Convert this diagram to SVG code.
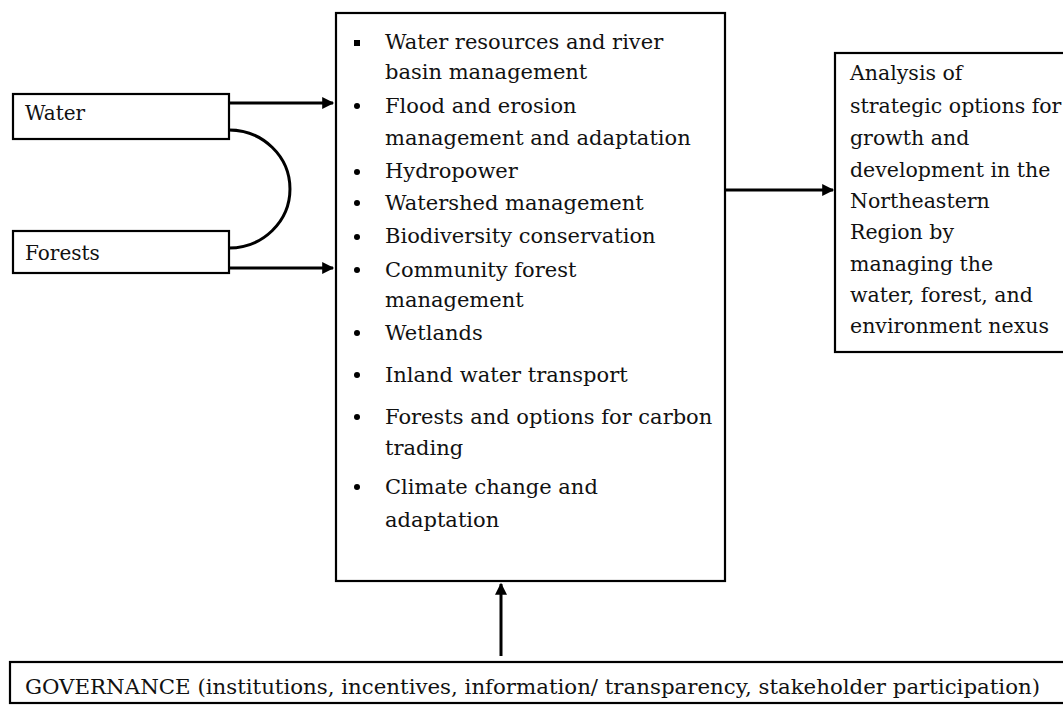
<svg xmlns="http://www.w3.org/2000/svg" width="1063" height="705" viewBox="0 0 1063 705">
<style>
.box{fill:#fff;stroke:#000;stroke-width:2.2}
.t{font-family:"DejaVu Serif","Liberation Serif",serif;fill:#111}
.m{font-size:21px}
.r{font-size:20.5px}
.g{font-size:21px}
.s{font-size:20px}
.ln{fill:none;stroke:#000;stroke-width:3}
</style>
<defs>
<marker id="ah" viewBox="0 0 10 10" refX="9" refY="5" markerWidth="5" markerHeight="4" orient="auto" markerUnits="strokeWidth">
<path d="M0,0 L10,5 L0,10 z" fill="#000"/>
</marker>
</defs>
<rect width="1063" height="705" fill="#fff"/>
<g id="connectors">
<path class="ln" d="M229,103 H333" marker-end="url(#ah)"/>
<path class="ln" d="M229,268 H333" marker-end="url(#ah)"/>
<path class="ln" d="M229,130 A61,59 0 0 1 229,248"/>
<path class="ln" d="M724,190 H833" marker-end="url(#ah)"/>
<path class="ln" d="M501,656 V584" marker-end="url(#ah)"/>
</g>
<g id="water">
<rect class="box" x="13" y="94" width="216" height="45"/>
<text class="t s" x="25" y="120">Water</text>
</g>
<g id="forests">
<rect class="box" x="13" y="231" width="216" height="42"/>
<text class="t s" x="25" y="260">Forests</text>
</g>
<g id="topics">
<rect class="box" x="336" y="13" width="389" height="568"/>
<rect x="354" y="40" width="6" height="6" fill="#000"/>
<g fill="#000">
<circle cx="357" cy="106" r="3"/>
<circle cx="357" cy="172" r="3"/>
<circle cx="357" cy="203" r="3"/>
<circle cx="357" cy="237" r="3"/>
<circle cx="357" cy="270" r="3"/>
<circle cx="357" cy="333" r="3"/>
<circle cx="357" cy="375" r="3"/>
<circle cx="357" cy="417" r="3"/>
<circle cx="357" cy="487" r="3"/>
</g>
<g class="t m">
<text x="385" y="49">Water resources and river</text>
<text x="385" y="79">basin management</text>
<text x="385" y="113">Flood and erosion</text>
<text x="385" y="145">management and adaptation</text>
<text x="385" y="178">Hydropower</text>
<text x="385" y="210">Watershed management</text>
<text x="385" y="243">Biodiversity conservation</text>
<text x="385" y="277">Community forest</text>
<text x="385" y="307">management</text>
<text x="385" y="340">Wetlands</text>
<text x="385" y="382">Inland water transport</text>
<text x="385" y="424">Forests and options for carbon</text>
<text x="385" y="455">trading</text>
<text x="385" y="494">Climate change and</text>
<text x="385" y="527">adaptation</text>
</g>
</g>
<g id="analysis">
<rect class="box" x="835" y="53" width="240" height="299"/>
<g class="t r">
<text x="850" y="80">Analysis of</text>
<text x="850" y="113">strategic options for</text>
<text x="850" y="145">growth and</text>
<text x="850" y="177">development in the</text>
<text x="850" y="208">Northeastern</text>
<text x="850" y="239">Region by</text>
<text x="850" y="271">managing the</text>
<text x="850" y="302">water, forest, and</text>
<text x="850" y="333">environment nexus</text>
</g>
</g>
<g id="governance">
<rect class="box" x="10" y="662" width="1070" height="41"/>
<text class="t g" x="25" y="694" textLength="1015" lengthAdjust="spacingAndGlyphs">GOVERNANCE (institutions, incentives, information/ transparency, stakeholder participation)</text>
</g>
</svg>
